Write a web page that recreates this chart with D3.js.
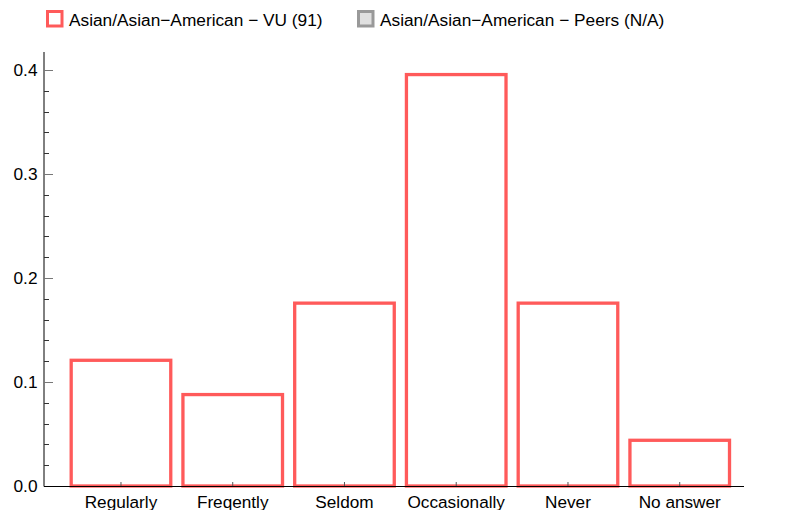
<!DOCTYPE html>
<html><head><meta charset="utf-8">
<script src="https://cdn.jsdelivr.net/npm/d3@7"></script>
<style>body{margin:0;background:#fff}svg{display:block}text{font-family:"Liberation Sans",Arial,sans-serif;fill:#000}</style>
</head><body><svg id="c" width="785" height="510"></svg>
<script>
const categories = ["Regularly","Freqently","Seldom","Occasionally","Never","No answer"];
const counts = [11, 8, 16, 36, 16, 4];
const total = 91;
const values = counts.map(c => c / total);
const yTicks = [0, 0.1, 0.2, 0.3, 0.4];
const legendLabels = ["Asian/Asian\u2212American \u2212 VU (91)", "Asian/Asian\u2212American \u2212 Peers (N/A)"];

const svg = d3.select("#c");
const red = "#ff5a5a";
const x = d3.scaleBand().domain(categories).range([65.1, 735.6]).paddingInner(0.1).paddingOuter(0.05);
const y = d3.scaleLinear().domain([0, 0.4]).range([486, 70]);
const x0 = 44, x1 = 744;

// bars
svg.append("g").selectAll("rect").data(values).join("rect")
  .attr("x", (d,i) => x(categories[i]) + 0.5)
  .attr("width", x.bandwidth() - 1)
  .attr("y", d => y(d))
  .attr("height", d => y(0) - y(d))
  .attr("fill", "none").attr("stroke", red).attr("stroke-width", 3.3);

// y axis
const ya = svg.append("g");
ya.append("line").attr("x1", x0).attr("x2", x0).attr("y1", 52).attr("y2", y(0)+0.5).attr("stroke", "#000");
const minor = d3.range(0, 0.4001, 0.02);
ya.selectAll("line.m").data(minor).join("line").attr("class","m")
  .attr("x1", x0).attr("x2", (d,i) => i % 5 === 0 ? x0 + 9 : x0 + 5)
  .attr("y1", d => Math.round(y(d)) + 0.5).attr("y2", d => Math.round(y(d)) + 0.5)
  .attr("stroke", (d,i) => i % 5 === 0 ? "#777" : "#333");
ya.selectAll("text").data(yTicks).join("text")
  .attr("x", 37.5).attr("y", d => y(d) + 6).attr("text-anchor", "end")
  .style("font-size", "17.3px").text(d => d.toFixed(1));

// x axis
const xa = svg.append("g");
xa.append("line").attr("x1", x0).attr("x2", x1).attr("y1", y(0)+0.5).attr("y2", y(0)+0.5).attr("stroke", "#000");
xa.selectAll("line.t").data(categories).join("line").attr("class","t")
  .attr("x1", d => x(d) + x.bandwidth()/2).attr("x2", d => x(d) + x.bandwidth()/2)
  .attr("y1", y(0)).attr("y2", y(0) - 4).attr("stroke", "#555");
xa.selectAll("text").data(categories).join("text")
  .attr("x", d => x(d) + x.bandwidth()/2).attr("y", 507.5).attr("text-anchor", "middle")
  .style("font-size", "17.2px").text(d => d);

// legend
const lg = svg.append("g");
const lx = [46, 357];
const lstroke = [red, "#999"];
const lfill = ["#fff", "#e0e0e0"];
legendLabels.forEach((t, i) => {
  lg.append("rect").attr("x", lx[i] + 1.5).attr("y", 11.5).attr("width", 14.5).attr("height", 14.5)
    .attr("fill", lfill[i]).attr("stroke", lstroke[i]).attr("stroke-width", 3);
  lg.append("text").attr("x", lx[i] + 23).attr("y", 25.5).style("font-size", "17.3px").text(t);
});
</script></body></html>
